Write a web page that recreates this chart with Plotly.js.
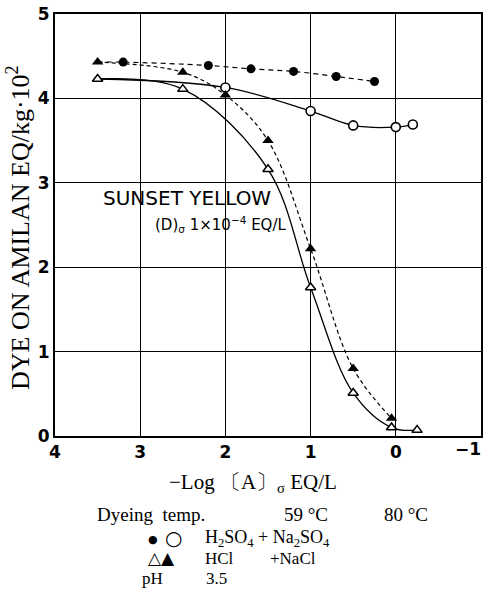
<!DOCTYPE html>
<html>
<head>
<meta charset="utf-8">
<script src="https://cdn.plot.ly/plotly-3.0.1.min.js"></script>
<style>html,body{margin:0;padding:0;background:#fff;}#chart{width:484px;height:589px;}</style>
</head>
<body>
<div id="chart"></div>
<script>
// ● 59 °C  H2SO4 + Na2SO4
var x59S = [3.2, 2.2, 1.7, 1.2, 0.7, 0.25];
var y59S = [4.43, 4.39, 4.35, 4.32, 4.26, 4.20];
// ○ 80 °C  H2SO4 + Na2SO4
var x80S = [2.0, 1.0, 0.5, 0.0, -0.2];
var y80S = [4.13, 3.85, 3.68, 3.66, 3.69];
// △ 59 °C  HCl + NaCl
var x59H = [3.5, 2.5, 1.5, 1.0, 0.5, 0.05, -0.25];
var y59H = [4.23, 4.11, 3.16, 1.76, 0.51, 0.10, 0.07];
// ▲ 80 °C  HCl + NaCl
var x80H = [3.5, 2.5, 2.0, 1.5, 1.0, 0.5, 0.05];
var y80H = [4.43, 4.31, 4.04, 3.50, 2.22, 0.80, 0.21];

var xTicks = [4, 3, 2, 1, 0];
var xTickText = ['4', '3', '2', '1', '0'];
var yTicks = [0, 1, 2, 3, 4, 5];

var serif = 'Liberation Serif, DejaVu Serif, serif';
var sans = 'DejaVu Sans, Liberation Sans, sans-serif';

var traces = [
  {x: [x80H[0]].concat(x59S), y: [y80H[0]].concat(y59S), mode: 'lines',
   line: {color: '#000', width: 1.2, dash: '5px,4px', shape: 'spline'}},
  {x: [x59H[0]].concat(x80S), y: [y59H[0]].concat(y80S), mode: 'lines',
   line: {color: '#000', width: 1.3, shape: 'spline'}},
  {x: x59H, y: y59H, mode: 'lines', line: {color: '#000', width: 1.3, shape: 'spline', smoothing: 1}},
  {x: x80H, y: y80H, mode: 'lines', line: {color: '#000', width: 1.2, dash: '4px,3px', shape: 'spline', smoothing: 1}},
  {x: x59S, y: y59S, mode: 'markers', marker: {symbol: 'circle', size: 9, color: '#000'}},
  {x: x80S, y: y80S, mode: 'markers', marker: {symbol: 'circle', size: 9, color: '#fff', line: {color: '#000', width: 1.6}}},
  {x: x59H, y: y59H, mode: 'markers', marker: {symbol: 'triangle-up', size: 9, color: '#fff', line: {color: '#000', width: 1.5}}},
  {x: x80H, y: y80H, mode: 'markers', marker: {symbol: 'triangle-up', size: 10, color: '#000'}}
];

function px(v) { return (v - 55) / 426; }
function py(v) { return (436 - v) / 422; }

function ann(text, x, y, size, fam, xanchor, extra) {
  var a = {text: text, xref: 'paper', yref: 'paper', x: px(x), y: py(y),
    xanchor: xanchor || 'center', yanchor: 'middle', showarrow: false,
    font: {family: fam || serif, size: size, color: '#000'}};
  if (extra) for (var k in extra) a[k] = extra[k];
  return a;
}

var layout = {
  width: 484, height: 589,
  margin: {l: 55, r: 3, t: 14, b: 153, pad: 0},
  paper_bgcolor: '#fff', plot_bgcolor: '#fff',
  showlegend: false,
  xaxis: {range: [4, -1], tickvals: xTicks, ticktext: xTickText, showgrid: true,
    gridcolor: '#000', gridwidth: 1, zeroline: false, showline: true, mirror: true,
    linecolor: '#000', linewidth: 2, ticks: '',
    tickfont: {family: sans, size: 17, color: '#000', weight: 'bold'}},
  yaxis: {range: [0, 5], tickvals: yTicks, showgrid: true, gridcolor: '#000', gridwidth: 1,
    zeroline: false, showline: true, mirror: true, linecolor: '#000', linewidth: 2, ticks: '',
    tickfont: {family: sans, size: 17, color: '#000', weight: 'bold'}},
  shapes: [
    {type: 'rect', xref: 'paper', yref: 'paper', x0: px(62), x1: px(290), y0: py(247), y1: py(185),
     fillcolor: '#fff', line: {width: 0}, layer: 'between'}
  ],
  annotations: [
    ann('−1', 483, 449, 17, sans, 'right', {font: {family: sans, size: 17, color: '#000', weight: 'bold'}}),
    ann('DYE ON AMILAN EQ/kg·10<sup>2</sup>', 18, 228, 26, serif, 'center', {textangle: -90}),
    ann('SUNSET YELLOW', 187, 198, 20, sans),
    ann('(D)<sub>σ</sub> 1×10<sup>−4</sup> EQ/L', 220, 224, 15, sans),
    ann('−Log 〔A〕<sub>σ</sub> EQ/L', 253, 483, 21),
    ann('Dyeing  temp.', 95, 514, 19, serif, 'left'),
    ann('59 °C', 306, 514, 19),
    ann('80 °C', 406, 514, 19),
    ann('●', 153, 539, 11, sans),
    ann('○', 173, 538, 20, sans),
    ann('H<sub>2</sub>SO<sub>4</sub> + Na<sub>2</sub>SO<sub>4</sub>', 203, 538, 18, serif, 'left'),
    ann('△▲', 161, 558, 17, sans),
    ann('HCl', 203, 558, 17, serif, 'left'),
    ann('+NaCl', 268, 558, 17, serif, 'left'),
    ann('pH', 140, 578, 17, serif, 'left'),
    ann('3.5', 204, 578, 17, serif, 'left')
  ]
};

Plotly.newPlot('chart', traces, layout, {staticPlot: true, displayModeBar: false});
</script>
</body>
</html>
